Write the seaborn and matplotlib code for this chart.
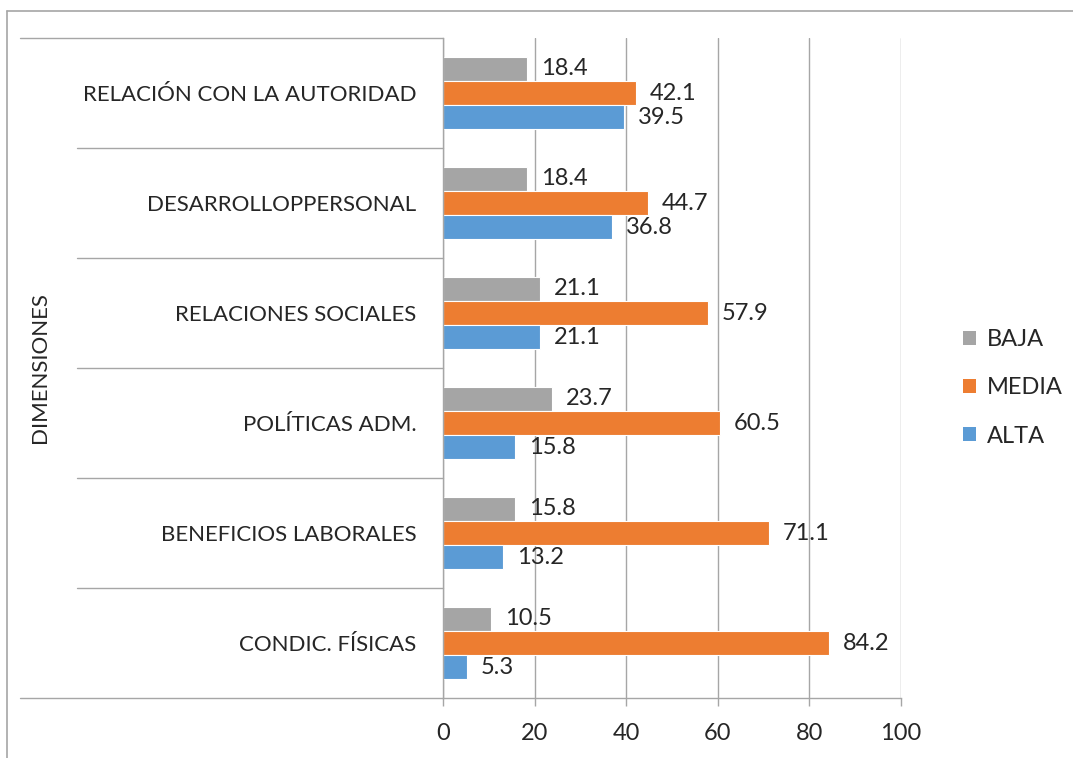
import matplotlib
matplotlib.use("Agg")
import matplotlib.pyplot as plt
import seaborn as sns
import pandas as pd
from matplotlib.lines import Line2D
from matplotlib.patches import Patch

categories = ["RELACIÓN CON LA AUTORIDAD", "DESARROLLOPPERSONAL", "RELACIONES SOCIALES",
              "POLÍTICAS ADM.", "BENEFICIOS LABORALES", "CONDIC. FÍSICAS"]
series = ["BAJA", "MEDIA", "ALTA"]
baja = [18.4, 18.4, 21.1, 23.7, 15.8, 10.5]
media = [42.1, 44.7, 57.9, 60.5, 71.1, 84.2]
alta = [39.5, 36.8, 21.1, 15.8, 13.2, 5.3]
x_ticks = [0, 20, 40, 60, 80, 100]
colors = ["#A5A5A5", "#ED7D31", "#5B9BD5"]

rows = []
for s, vals in zip(series, [baja, media, alta]):
    for c, v in zip(categories, vals):
        rows.append({"Dimension": c, "Nivel": s, "Valor": v})
df = pd.DataFrame(rows)

sns.set_theme(style="white")
FONT = ["Lato", "DejaVu Sans"]
plt.rcParams["font.family"] = FONT
TXT = "#262626"
GRID = "#A6A6A6"
FS_CAT = 16
FS_NUM = 17

fig = plt.figure(figsize=(10.73, 7.58), dpi=100)
ax = fig.add_axes([443 / 1073, 1 - 698 / 758, (901 - 443) / 1073, (698 - 38) / 758])

sns.barplot(data=df, y="Dimension", x="Valor", hue="Nivel", order=categories,
            hue_order=series, palette=colors, saturation=1, orient="h", width=0.655,
            edgecolor="white", linewidth=0.8, ax=ax, legend=False)

for cont in ax.containers:
    ax.bar_label(cont, fmt="%.1f", padding=10, fontsize=FS_NUM, color=TXT)

ax.set_xlim(0, 100)
ax.set_ylim(len(categories) - 0.5, -0.5)
ax.set_xticks(x_ticks)
ax.set_xlabel("")
ax.set_ylabel("")
ax.grid(axis="x", color=GRID, linewidth=1)
ax.set_axisbelow(True)
for sp in ["top", "right"]:
    ax.spines[sp].set_visible(False)
ax.spines["left"].set_color(GRID)
ax.spines["bottom"].set_color(GRID)
ax.spines["left"].set_linewidth(1)
ax.spines["bottom"].set_linewidth(1)
ax.tick_params(axis="x", length=6, width=1, color=GRID, labelsize=FS_NUM, labelcolor=TXT, pad=12, bottom=True)
ax.tick_params(axis="y", length=0, pad=19, labelsize=FS_CAT, labelcolor=TXT)

# category separators (multi-level style lines)
ytr = ax.get_yaxis_transform()
n = len(categories)
for i in range(n + 1):
    yb = i - 0.5
    x0 = (20 - 443) / 458 if i in (0, n) else (77 - 443) / 458
    ax.plot([x0, 0], [yb, yb], transform=ytr, color=GRID, linewidth=1, clip_on=False)

fig.text(40 / 1073, 1 - 368 / 758, "DIMENSIONES", rotation=90, ha="center", va="center",
         fontsize=FS_CAT, color=TXT)

handles = [Patch(facecolor=c, edgecolor="none") for c in colors]
fig.legend(handles, series, loc="center left", bbox_to_anchor=(942 / 1073, 1 - 388 / 758),
           frameon=False, fontsize=FS_NUM, labelcolor=TXT, handlelength=0.55, handleheight=0.55,
           handletextpad=0.45, labelspacing=1.15)

# outer frame
fig.add_artist(Line2D([7 / 1073, 7 / 1073], [0, 1 - 11 / 758], transform=fig.transFigure,
                      color=GRID, linewidth=1.2))
fig.add_artist(Line2D([7 / 1073, 1], [1 - 11 / 758, 1 - 11 / 758], transform=fig.transFigure,
                      color=GRID, linewidth=1.2))

fig.savefig("out.png", dpi=100, facecolor="white")
